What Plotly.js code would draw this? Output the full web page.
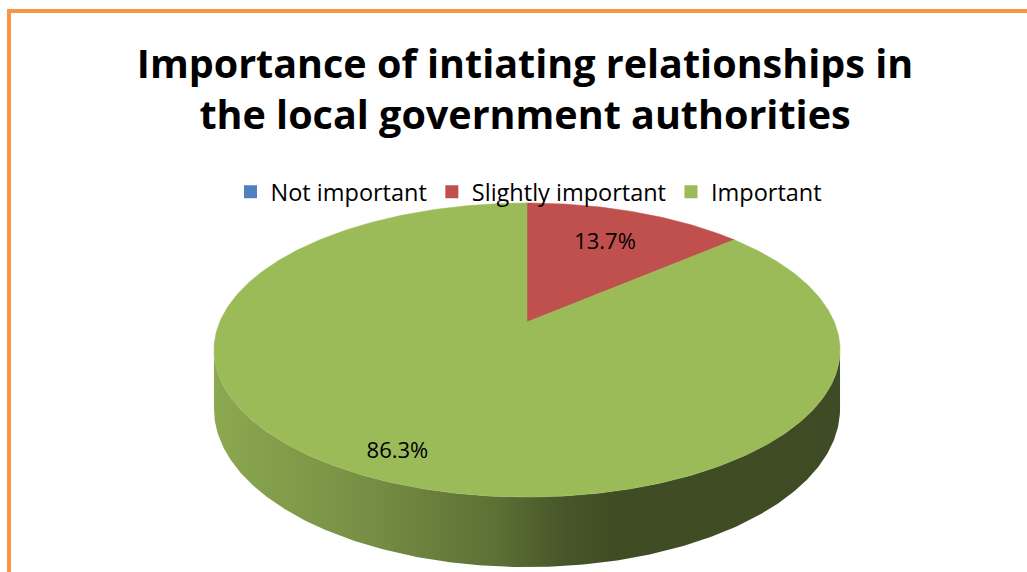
<!DOCTYPE html>
<html><head><meta charset="utf-8">
<script src="https://cdn.plot.ly/plotly-3.0.1.min.js"></script>
<style>html,body{margin:0;padding:0;background:#fff;overflow:hidden}#chart{width:1027px;height:572px}</style>
</head><body><div id="chart"></div>
<script>
// ---- data ----
const categories = ["Not important", "Slightly important", "Important"];
const percentages = [0, 13.7, 86.3];
const sliceColors = ["#4F81BD", "#C0504D", "#9BBB59"];
const titleLines = ["Importance of intiating relationships in", "the local government authorities"];

// ---- geometry / style (pixels) ----
const W = 1027, H = 572;
const CX = 527, CY = 322, A = 307.3, B = 141.7, P = 0.1905, DEPTH = 56.7;
const LABEL_R = [0.68, 0.68, 0.86];
const FONT = "'Open Sans', Lato, sans-serif";

function proj(u, v) { const den = 1 + P * v; return [CX + A * u / den, CY - B * v / den]; }
function hexToRgb(h) { return [parseInt(h.slice(1,3),16), parseInt(h.slice(3,5),16), parseInt(h.slice(5,7),16)]; }
function shade(h, f) { const c = hexToRgb(h); return 'rgb(' + c.map(x => Math.round(x * f)).join(',') + ')'; }

const total = percentages.reduce((a, b) => a + b, 0);
const traces = [];
const N = 240;

// slice angular ranges, t measured clockwise from 12 o'clock
let acc = 0;
const sliceRanges = percentages.map(v => { const t0 = acc / total * 2 * Math.PI; acc += v; return [t0, acc / total * 2 * Math.PI]; });

// side (front wall) pieces
const frontStart = Math.PI + Math.asin(P), frontEnd = 2 * Math.PI - Math.asin(P);
sliceRanges.forEach((r, i) => {
  if (percentages[i] <= 0) return;
  let ft0 = Math.PI / 2 - frontEnd + 2 * Math.PI;
  ft0 = ((ft0 % (2*Math.PI)) + 2*Math.PI) % (2*Math.PI);
  const ft1 = ft0 + (frontEnd - frontStart);
  const a0 = Math.max(r[0], ft0), a1 = Math.min(r[1], ft1);
  if (a1 <= a0) return;
  const top = [], bot = [];
  for (let k = 0; k <= N; k++) {
    const t = a0 + (a1 - a0) * k / N;
    const u = Math.sin(t), v = Math.cos(t);
    const pt = proj(u, v);
    top.push(pt);
    bot.push([pt[0], pt[1] + DEPTH / (1 + P * v)]);
  }
  const poly = top.concat(bot.reverse());
  traces.push({
    type: 'scatter', mode: 'lines', x: poly.map(p => p[0]), y: poly.map(p => p[1]),
    fill: 'toself', line: { width: 0, color: 'rgba(0,0,0,0)' }, showlegend: false, hoverinfo: 'skip',
    fillgradient: { type: 'horizontal', colorscale: [
      [0, shade(sliceColors[i], 0.90)], [0.25, shade(sliceColors[i], 0.76)], [0.45, shade(sliceColors[i], 0.60)],
      [0.56, shade(sliceColors[i], 0.46)], [0.64, shade(sliceColors[i], 0.41)], [1, shade(sliceColors[i], 0.40)]] }
  });
});

// top face slices
sliceRanges.forEach((r, i) => {
  if (percentages[i] <= 0) return;
  const pts = [[CX, CY]];
  const n = Math.max(8, Math.round(N * (r[1] - r[0]) / Math.PI));
  for (let k = 0; k <= n; k++) {
    const t = r[0] + (r[1] - r[0]) * k / n;
    pts.push(proj(Math.sin(t), Math.cos(t)));
  }
  pts.push([CX, CY]);
  traces.push({
    type: 'scatter', mode: 'lines', x: pts.map(p => p[0]), y: pts.map(p => p[1]),
    fill: 'toself', fillcolor: sliceColors[i], line: { width: 0.5, color: sliceColors[i] },
    showlegend: false, hoverinfo: 'skip'
  });
});

// labels
const lx = [], ly = [], lt = [];
sliceRanges.forEach((r, i) => {
  if (percentages[i] <= 0) return;
  const t = (r[0] + r[1]) / 2, rr = LABEL_R[i];
  const pt = proj(rr * Math.sin(t), rr * Math.cos(t));
  lx.push(pt[0]); ly.push(pt[1]); lt.push(percentages[i].toFixed(1) + '%');
});
traces.push({ type: 'scatter', mode: 'text', x: lx, y: ly, text: lt, textposition: 'middle center',
  textfont: { family: FONT, size: 22, color: '#000' }, showlegend: false, hoverinfo: 'skip' });

// legend entries
categories.forEach((c, i) => traces.push({
  type: 'scatter', mode: 'markers', x: [null], y: [null], name: c,
  marker: { symbol: 'square', size: 13, color: sliceColors[i] }
}));

const layout = {
  width: W, height: H, margin: { l: 0, r: 0, t: 0, b: 0 },
  paper_bgcolor: '#fff', plot_bgcolor: '#fff',
  xaxis: { range: [0, W], visible: false, fixedrange: true },
  yaxis: { range: [H, 0], visible: false, fixedrange: true },
  title: { text: titleLines.join('<br>'), x: 525 / W, xanchor: 'center', y: 1 - 78 / H, yanchor: 'top', yref: 'container',
    font: { family: FONT, size: 39.5, weight: 'bold', color: '#000' } },
  showlegend: true,
  legend: { orientation: 'h', x: 529 / W, xanchor: 'center', y: 1 - 192 / H, yanchor: 'middle',
    font: { family: FONT, size: 23.5, color: '#000' }, bgcolor: 'rgba(0,0,0,0)', traceorder: 'normal' },
  shapes: [{ type: 'rect', xref: 'x', yref: 'y', x0: 9, y0: 11, x1: W + 50, y1: H + 50,
    line: { color: '#F79646', width: 4 }, layer: 'above' }],
  hovermode: false
};
Plotly.newPlot('chart', traces, layout, { staticPlot: true, displayModeBar: false });
</script></body></html>
